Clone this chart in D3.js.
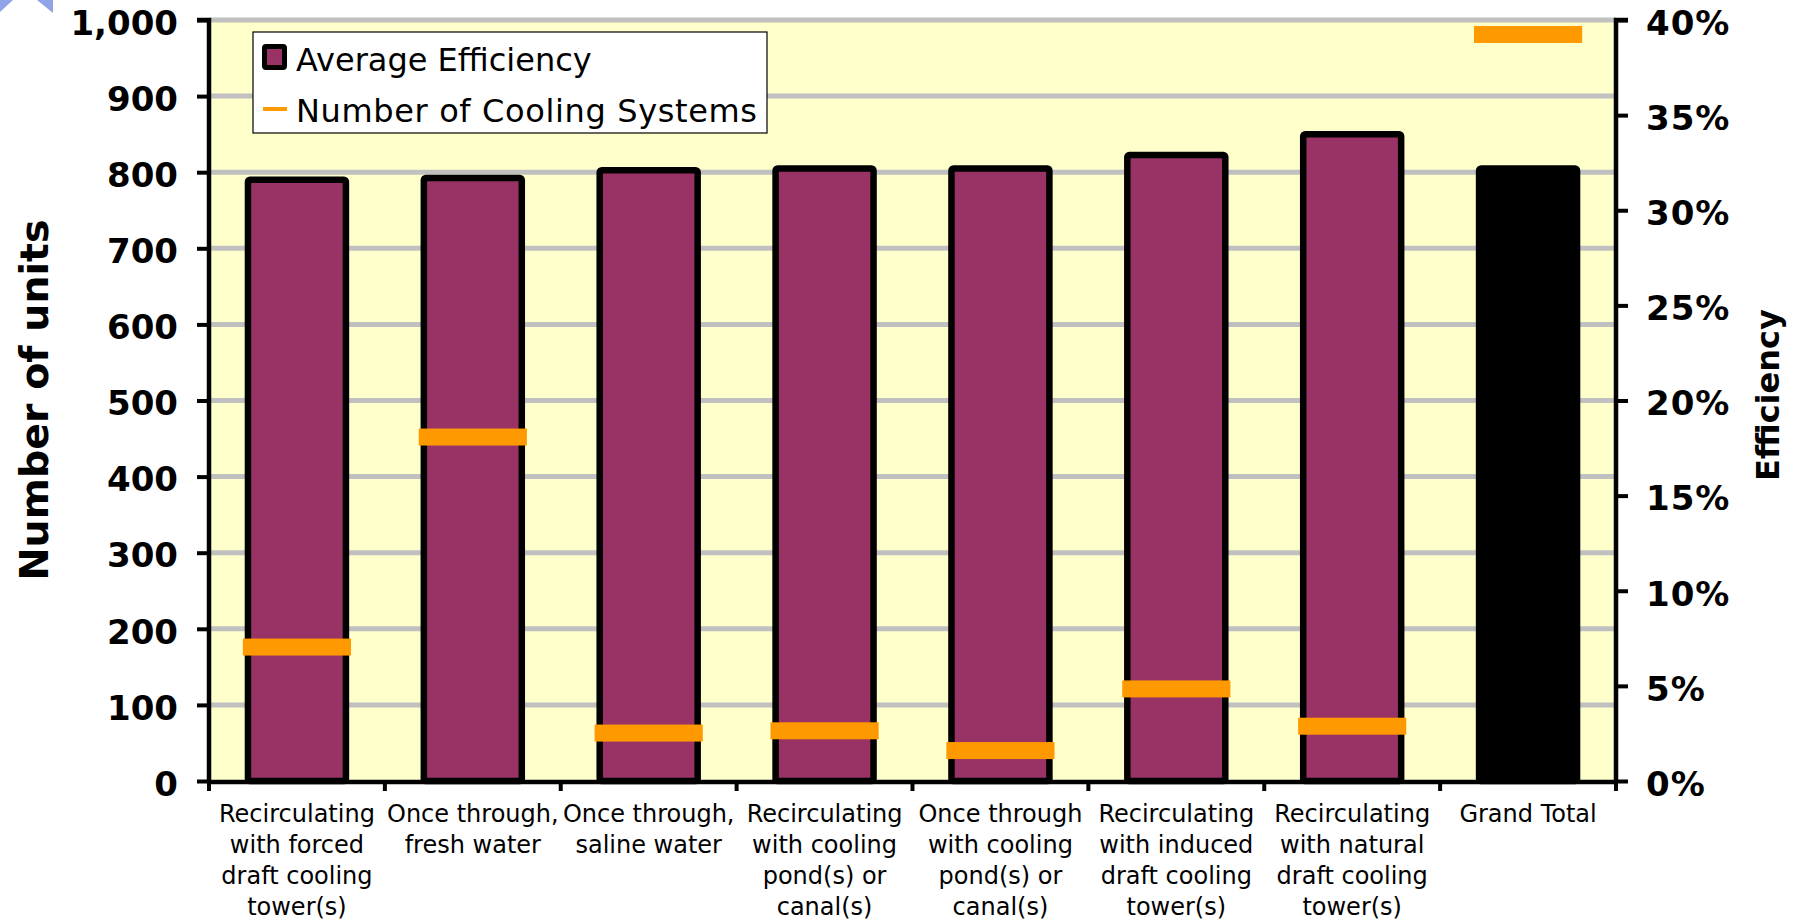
<!DOCTYPE html>
<html>
<head>
<meta charset="utf-8">
<script src="https://cdn.jsdelivr.net/npm/d3@7"></script>
<style>
  html, body { margin: 0; padding: 0; background: #ffffff; }
  svg { display: block; }
  text { font-family: "DejaVu Sans", Verdana, sans-serif; }
</style>
</head>
<body>
<svg id="chart" width="1806" height="923"></svg>
<script>
// ---- data ----
const categories = [
  "Recirculating\nwith forced\ndraft cooling\ntower(s)",
  "Once through,\nfresh water",
  "Once through,\nsaline water",
  "Recirculating\nwith cooling\npond(s) or\ncanal(s)",
  "Once through\nwith cooling\npond(s) or\ncanal(s)",
  "Recirculating\nwith induced\ndraft cooling\ntower(s)",
  "Recirculating\nwith natural\ndraft cooling\ntower(s)",
  "Grand Total"
];
const averageEfficiency = [0.316, 0.317, 0.321, 0.322, 0.322, 0.329, 0.340, 0.322];
const numberOfCoolingSystems = [176, 452, 63, 66, 40, 121, 72, 981];
const leftTicks = [0, 100, 200, 300, 400, 500, 600, 700, 800, 900, 1000];
const rightTicks = [0, 0.05, 0.10, 0.15, 0.20, 0.25, 0.30, 0.35, 0.40];
const seriesNames = ["Average Efficiency", "Number of Cooling Systems"];
const axisTitles = { left: "Number of units", right: "Efficiency" };

// ---- layout ----
const svg = d3.select("#chart");
const plot = { left: 209, right: 1616, top: 20, bottom: 781 };

const x = d3.scaleBand().domain(categories).range([plot.left, plot.right]).padding(0);
const yL = d3.scaleLinear().domain([0, 1000]).range([plot.bottom, plot.top]);
const yR = d3.scaleLinear().domain([0, 0.4]).range([plot.bottom, plot.top]);

// decoration top-left
svg.append("path").attr("d", "M0,0 L13,0 L0,12 Z").attr("fill", "#8fa3e6");
svg.append("path").attr("d", "M37,0 L53,0 L53,13 Z").attr("fill", "#8fa3e6");

// plot background
svg.append("rect")
  .attr("x", plot.left).attr("y", plot.top)
  .attr("width", plot.right - plot.left).attr("height", plot.bottom - plot.top)
  .attr("fill", "#ffffcc");

// gridlines
svg.append("g").selectAll("line").data(leftTicks.filter(d => d > 0)).join("line")
  .attr("x1", plot.left).attr("x2", plot.right)
  .attr("y1", d => yL(d)).attr("y2", d => yL(d))
  .attr("stroke", "#c0c0c0").attr("stroke-width", 5);

// bars (efficiency, right axis)
const barW = x.bandwidth() * 0.557;
svg.append("g").selectAll("rect").data(categories).join("rect")
  .attr("x", d => x(d) + x.bandwidth() / 2 - barW / 2)
  .attr("y", (d, i) => yR(averageEfficiency[i]))
  .attr("width", barW)
  .attr("height", (d, i) => yR(0) - yR(averageEfficiency[i]))
  .attr("rx", 2)
  .attr("fill", (d, i) => i === categories.length - 1 ? "#000000" : "#993366")
  .attr("stroke", "#000000").attr("stroke-width", 6.5);

// orange markers (count, left axis)
const markW = x.bandwidth() * 0.615, markH = 17;
svg.append("g").selectAll("rect").data(categories).join("rect")
  .attr("x", d => x(d) + x.bandwidth() / 2 - markW / 2)
  .attr("y", (d, i) => yL(numberOfCoolingSystems[i]) - markH / 2)
  .attr("width", markW).attr("height", markH)
  .attr("fill", "#ff9900");

// left axis
const axL = svg.append("g").attr("transform", `translate(${plot.left},0)`)
  .call(d3.axisLeft(yL).tickValues(leftTicks).tickSize(12).tickPadding(19).tickFormat(d3.format(",")));
axL.select(".domain").attr("stroke", "#000").attr("stroke-width", 4.5)
  .attr("d", `M-12,${plot.top}H0V${plot.bottom + 2}`);
axL.selectAll(".tick line").attr("stroke", "#000").attr("stroke-width", 4);
axL.selectAll(".tick text").attr("font-size", 34).attr("font-weight", "bold").attr("dy", "0.42em")
  .attr("fill", "#000").attr("font-family", "'DejaVu Sans', Verdana, sans-serif");

// right axis
const axR = svg.append("g").attr("transform", `translate(${plot.right},0)`)
  .call(d3.axisRight(yR).tickValues(rightTicks).tickSize(12).tickPadding(18).tickFormat(d3.format(".0%")));
axR.select(".domain").attr("stroke", "#000").attr("stroke-width", 4.5)
  .attr("d", `M12,${plot.top}H0V${plot.bottom + 2}`);
axR.selectAll(".tick line").attr("stroke", "#000").attr("stroke-width", 4);
axR.selectAll(".tick text").attr("font-size", 34).attr("font-weight", "bold").attr("dy", "0.42em")
  .attr("letter-spacing", 1)
  .attr("fill", "#000").attr("font-family", "'DejaVu Sans', Verdana, sans-serif");

// bottom axis
const gB = svg.append("g");
gB.append("line").attr("x1", plot.left - 2).attr("x2", plot.right + 2)
  .attr("y1", plot.bottom + 1).attr("y2", plot.bottom + 1)
  .attr("stroke", "#000").attr("stroke-width", 4.5);
const boundaries = categories.map(c => x(c)).concat([x(categories[categories.length - 1]) + x.bandwidth()]);
gB.selectAll("line.t").data(boundaries).join("line").attr("class", "t")
  .attr("x1", d => d).attr("x2", d => d)
  .attr("y1", plot.bottom).attr("y2", plot.bottom + 10)
  .attr("stroke", "#000").attr("stroke-width", 4);

// category labels
const labels = gB.selectAll("text.cat").data(categories).join("text").attr("class", "cat")
  .attr("x", d => x(d) + x.bandwidth() / 2)
  .attr("y", 822)
  .attr("text-anchor", "middle").attr("font-size", 24).attr("fill", "#000");
labels.each(function(d) {
  const lines = d.split("\n");
  d3.select(this).selectAll("tspan").data(lines).join("tspan")
    .attr("x", x(d) + x.bandwidth() / 2)
    .attr("dy", (l, i) => i === 0 ? 0 : 31)
    .text(l => l);
});

// axis titles
svg.append("text").attr("transform", "translate(48,400) rotate(-90)")
  .attr("text-anchor", "middle").attr("font-size", 39.5).attr("font-weight", "bold")
  .text(axisTitles.left);
svg.append("text").attr("transform", "translate(1779,395) rotate(-90)")
  .attr("text-anchor", "middle").attr("font-size", 32).attr("font-weight", "bold")
  .text(axisTitles.right);

// legend
const lg = svg.append("g");
lg.append("rect").attr("x", 253).attr("y", 32).attr("width", 514).attr("height", 101)
  .attr("fill", "#ffffff").attr("stroke", "#000").attr("stroke-width", 1.2);
lg.append("rect").attr("x", 264.5).attr("y", 46.5).attr("width", 20).attr("height", 21)
  .attr("rx", 1.5).attr("fill", "#993366").attr("stroke", "#000").attr("stroke-width", 5);
lg.append("line").attr("x1", 263).attr("x2", 287).attr("y1", 109).attr("y2", 109)
  .attr("stroke", "#ff9900").attr("stroke-width", 4);
lg.append("text").attr("x", 296).attr("y", 71).attr("font-size", 32).attr("fill", "#000").text(seriesNames[0]);
lg.append("text").attr("x", 296).attr("y", 122).attr("font-size", 32).attr("fill", "#000")
  .attr("textLength", 461).attr("lengthAdjust", "spacing").text(seriesNames[1]);
</script>
</body>
</html>
